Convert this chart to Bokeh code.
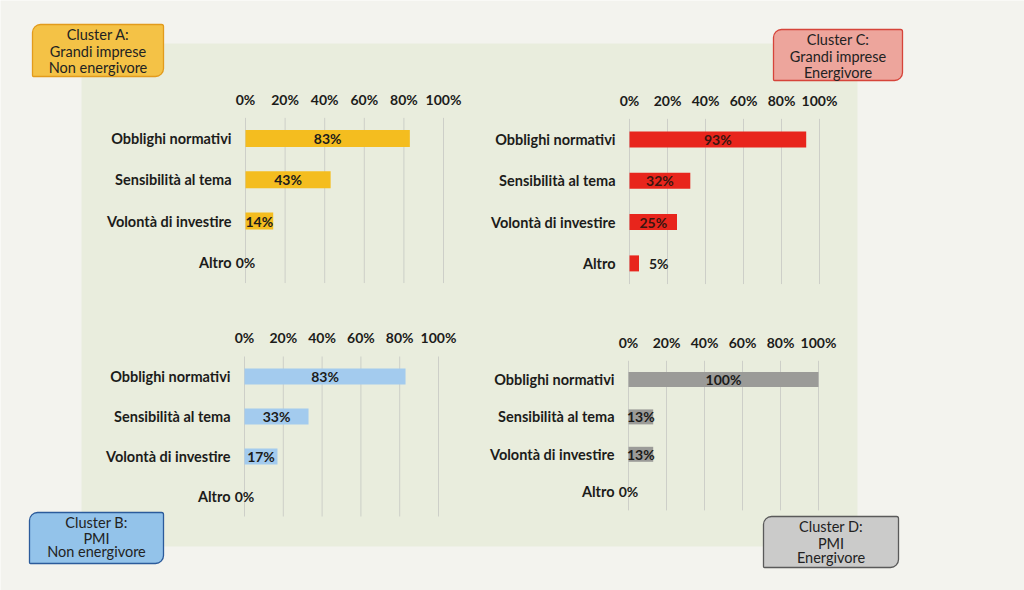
from bokeh.plotting import figure
from bokeh.models import Range1d, BoxAnnotation, ColumnDataSource
from bokeh.core.properties import value
from bokeh.embed import file_html
from bokeh.resources import INLINE

# ---------------- data ----------------
categories = ["Obblighi normativi", "Sensibilità al tema", "Volontà di investire", "Altro"]
tick_values = [0, 20, 40, 60, 80, 100]
tick_labels = ["0%", "20%", "40%", "60%", "80%", "100%"]

cluster_a_values = [83, 43, 14, 0]
cluster_b_values = [83, 33, 17, 0]
cluster_c_values = [93, 32, 25, 5]
cluster_d_values = [100, 13, 13, 0]

cluster_a_title = ["Cluster A:", "Grandi imprese", "Non energivore"]
cluster_b_title = ["Cluster B:", "PMI", "Non energivore"]
cluster_c_title = ["Cluster C:", "Grandi imprese", "Energivore"]
cluster_d_title = ["Cluster D:", "PMI", "Energivore"]

# ---------------- layout / style ----------------
W, H = 1024, 590
OX, OY = 0, 0  # page offset of the canvas
PAGE = "#f3f3ee"
PANEL = "#e9eddd"
GRID = "#cdcfc8"
INK = "#1c1c1a"
FONT = value("Lato")

p = figure(width=W, height=H,
           x_range=Range1d(OX, OX + W), y_range=Range1d(OY + H, OY),
           output_backend="svg", toolbar_location=None,
           x_axis_location=None, y_axis_location=None,
           min_border=0, background_fill_color=PAGE, border_fill_color=PAGE,
           outline_line_color=None)
p.xgrid.visible = False
p.ygrid.visible = False

# light green panel behind the four charts
p.add_layout(BoxAnnotation(left=81, right=857, top=43, bottom=546,
                           fill_color=PANEL, fill_alpha=1.0, line_color=None,
                           level="underlay"))

charts = [
    dict(values=cluster_a_values, color="#f4bd1f", ink=INK,
         x0=245, x100=443, c0=138, d=41.3, tick_y=99, bar_px=17),
    dict(values=cluster_c_values, color="#e8251c", ink="#3a1510",
         x0=629, x100=819, c0=139, d=41.3, tick_y=100, bar_px=16),
    dict(values=cluster_b_values, color="#a3cbee", ink=INK,
         x0=244, x100=438, c0=376, d=40.0, tick_y=337, bar_px=16),
    dict(values=cluster_d_values, color="#9b9b98", ink=INK,
         x0=628, x100=818, c0=379, d=37.4, tick_y=342, bar_px=15),
]

xr, yr = {}, {}
for n, c in enumerate(charts):
    k = (c["x100"] - c["x0"]) / 100.0
    xr[f"x{n}"] = Range1d((OX - c["x0"]) / k, (OX + W - c["x0"]) / k)
    yr[f"y{n}"] = Range1d((OY + H - c["c0"]) / c["d"], (OY - c["c0"]) / c["d"])
p.extra_x_ranges = xr
p.extra_y_ranges = yr

for n, c in enumerate(charts):
    xn, yn = f"x{n}", f"y{n}"
    idx = list(range(len(categories)))
    vals = c["values"]
    # vertical grid lines
    p.segment(x0=tick_values, x1=tick_values,
              y0=[-0.5] * len(tick_values), y1=[len(categories) - 0.5] * len(tick_values),
              line_color=GRID, line_width=1, x_range_name=xn, y_range_name=yn)
    # bars
    p.hbar(y=idx, left=0, right=vals, height=c["bar_px"] / c["d"],
           fill_color=c["color"], line_color=None,
           x_range_name=xn, y_range_name=yn)
    # tick labels (top)
    trow = (c["tick_y"] - c["c0"]) / c["d"]
    p.text(x=tick_values, y=[trow] * len(tick_values), text=tick_labels,
           text_align="center", text_baseline="middle",
           text_font=FONT, text_font_style="bold", text_font_size="14px",
           text_color=INK, x_range_name=xn, y_range_name=yn)
    # category labels
    p.text(x=[0] * len(categories), y=idx, text=categories, x_offset=-14,
           text_align="right", text_baseline="middle",
           text_font=FONT, text_font_style="bold", text_font_size="14.5px",
           text_color=INK, x_range_name=xn, y_range_name=yn)
    # value labels
    inside = dict(x=[], y=[], t=[])
    outside = dict(x=[], y=[], t=[])
    for i, v in enumerate(vals):
        if 0 < v < 10:
            outside["x"].append(v); outside["y"].append(i); outside["t"].append(f"{v}%")
        else:
            inside["x"].append(v / 2); inside["y"].append(i); inside["t"].append(f"{v}%")
    p.text(x="x", y="y", text="t", source=ColumnDataSource(inside),
           text_align="center", text_baseline="middle",
           text_font=FONT, text_font_style="bold", text_font_size="14px",
           text_color=c["ink"], x_range_name=xn, y_range_name=yn)
    if outside["x"]:
        p.text(x="x", y="y", text="t", source=ColumnDataSource(outside), x_offset=10,
               text_align="left", text_baseline="middle",
               text_font=FONT, text_font_style="bold", text_font_size="14px",
               text_color=INK, x_range_name=xn, y_range_name=yn)

# cluster boxes
boxes = [
    dict(lines=cluster_a_title, fill="#f4c246", line="#e29b1c",
         l=32, r=163, t=24, b=76, ly=[34, 51, 67]),
    dict(lines=cluster_c_title, fill="#eda59c", line="#d6443a",
         l=773, r=902, t=29, b=80, ly=[39, 56, 72]),
    dict(lines=cluster_b_title, fill="#93c3ea", line="#2b5b9b",
         l=29, r=163, t=512, b=563, ly=[522, 538, 551]),
    dict(lines=cluster_d_title, fill="#cbcbca", line="#5a5a5a",
         l=763, r=898, t=516, b=567, ly=[526, 543, 557]),
]
for b in boxes:
    p.add_layout(BoxAnnotation(left=b["l"], right=b["r"], top=b["t"], bottom=b["b"],
                               fill_color=b["fill"], fill_alpha=1.0,
                               line_color=b["line"], line_width=1.3, line_alpha=1.0,
                               border_radius=dict(top_left=8, top_right=2,
                                                  bottom_right=8, bottom_left=1),
                               level="underlay"))
    cx = (b["l"] + b["r"]) / 2
    p.text(x=[cx] * len(b["lines"]), y=b["ly"], text=b["lines"],
           text_align="center", text_baseline="middle",
           text_font=FONT, text_font_size="14.5px", text_color="#222222")

open("out.html", "w").write(file_html(p, INLINE))
